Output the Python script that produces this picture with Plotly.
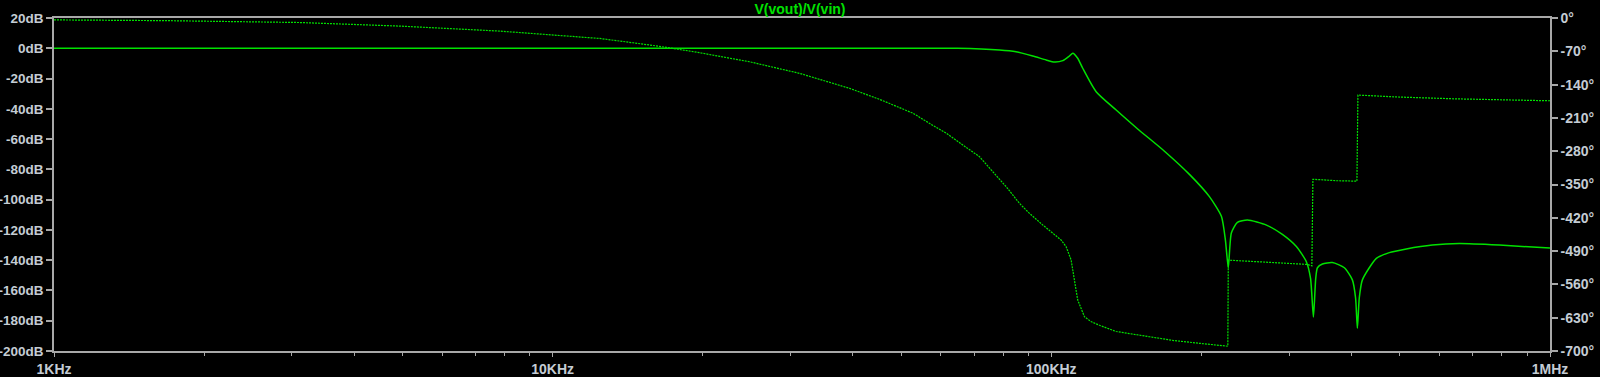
import plotly.graph_objects as go

# Magnitude of V(vout)/V(vin)
mag_freq = [1000, 64840, 78700, 85000, 91780, 97630, 101440, 105410, 108720, 110390,
            112950, 115610, 122980, 134900, 149000, 168600, 189200, 207500,
            219300, 223400, 226400, 229600, 236100, 247400, 270000, 290600, 310000,
            324600, 331000, 335400, 339000, 341700, 349600, 366000, 386900, 401500,
            407500, 410900, 414500, 420500, 448500, 476100, 515000, 580800, 657900,
            791500, 1000000]
mag_db = [0, 0, -1.1, -2.3, -5.1, -7.7, -9.1, -8.2, -5.1, -3.3,
          -6.6, -13.2, -28.7, -40.8, -53.3, -68, -83.3, -98,
          -111, -126.7, -145, -122, -115, -113.5, -116.8, -123, -131,
          -141, -152, -177.5, -152, -145, -142.5, -141.6, -145, -153,
          -165, -185, -165, -153, -138.8, -135, -132.6, -130, -129,
          -130, -132]

# Phase of V(vout)/V(vin)
ph_freq = [1000, 1680, 3109, 4933, 7826, 9858, 12420, 14480, 16890, 19700, 24820,
           31260, 39380, 45230, 48850, 52760, 56950, 61530, 66450, 71760, 76290,
           81190, 86310, 90380, 96110, 100650, 104620, 107080, 109570, 111240,
           112950, 116520, 120000, 124900, 130800, 134900, 157300, 176000, 198200,
           225900, 226400, 273700, 326200, 333000, 334600, 372800, 410000, 411900,
           491800, 649000, 1000000]
ph_deg = [-4, -5.6, -9.5, -17, -27.5, -34.5, -43, -52, -61.6, -72.9, -92,
          -116.3, -147.8, -171, -186, -200, -221.4, -242, -267, -291.5, -323,
          -354.6, -389.6, -410.6, -435, -452.6, -466.7, -480.7, -508.7, -550.8,
          -592.8, -627.9, -638, -646, -654, -659, -670, -678, -683.8,
          -690, -509, -514, -518, -521, -339, -342, -343, -162,
          -166, -170, -174]

x_tickvals = [1e3, 1e4, 1e5, 1e6]
x_ticktext = ["1KHz", "10KHz", "100KHz", "1MHz"]
db_ticks = list(range(-200, 21, 20))
deg_ticks = list(range(-700, 1, 70))

GREEN = "rgb(0,225,0)"
AXIS = "#a8a8a8"
LABEL = "#c4ccd4"
FONT = "Liberation Sans"
TICKFONT = dict(family=FONT, size=14, color=LABEL, weight="bold")
YTICKFONT = dict(family=FONT, size=13.5, color=LABEL, weight="bold")

fig = go.Figure()
fig.add_trace(go.Scatter(x=mag_freq, y=mag_db, mode="lines",
                         line=dict(color=GREEN, width=1.5, shape="spline", smoothing=0.6),
                         yaxis="y", hoverinfo="skip", showlegend=False))
fig.add_trace(go.Scatter(x=ph_freq, y=ph_deg, mode="lines",
                         line=dict(color=GREEN, width=1.2, dash="2px,1px"),
                         yaxis="y2", hoverinfo="skip", showlegend=False))

fig.update_layout(
    width=1600, height=377,
    paper_bgcolor="black", plot_bgcolor="black",
    margin=dict(l=54, r=50, t=18, b=26, autoexpand=False),
    font=dict(family=FONT, size=14, color=LABEL),
    title=dict(text="V(vout)/V(vin)", x=0.5, xanchor="center",
               y=1 - 9 / 377, yref="container", yanchor="middle", automargin=False,
               font=dict(family=FONT, size=14, color=GREEN, weight="bold")),
    xaxis=dict(type="log", range=[3, 6], tickvals=x_tickvals, ticktext=x_ticktext,
               showgrid=False, zeroline=False, showline=True, linecolor=AXIS,
               linewidth=2, mirror=True, ticks="outside", ticklen=4,
               tickcolor=AXIS, tickwidth=1, automargin=False,
               tickfont=TICKFONT,
               minor=dict(dtick="D1", ticks="outside", ticklen=3,
                          tickcolor=AXIS, showgrid=False)),
    yaxis=dict(range=[-200, 20], tickvals=db_ticks,
               ticktext=[f"{v}dB" for v in db_ticks],
               showgrid=False, zeroline=False, showline=True, linecolor=AXIS,
               linewidth=1.5, ticks="outside", ticklen=6, tickcolor=AXIS,
               tickwidth=2, automargin=False, tickfont=YTICKFONT),
    yaxis2=dict(range=[-700, 0], tickvals=deg_ticks,
                ticktext=[f"{v}°" for v in deg_ticks],
                overlaying="y", side="right",
                showgrid=False, zeroline=False, showline=True, linecolor=AXIS,
                linewidth=1.5, ticks="outside", ticklen=6, tickcolor=AXIS,
                tickwidth=2, automargin=False, tickfont=TICKFONT),
)

fig.write_html(
    "out.html",
    config={"displayModeBar": False},
    post_script="document.body.style.margin='0';document.body.style.background='black';"
                "document.documentElement.style.overflow='hidden';",
)
